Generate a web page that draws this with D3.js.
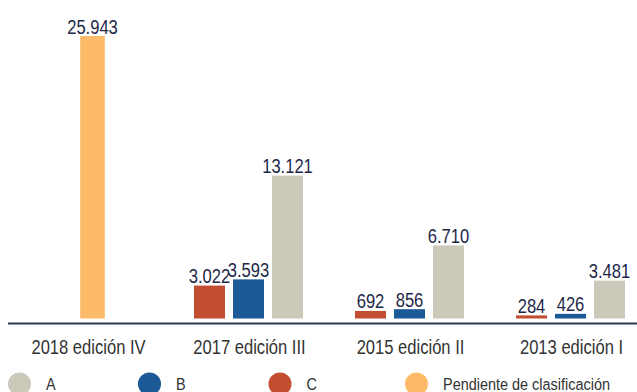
<!DOCTYPE html>
<html>
<head>
<meta charset="utf-8">
<script src="https://cdn.jsdelivr.net/npm/d3@7"></script>
<style>
  html, body { margin: 0; padding: 0; background: #fff; }
  svg { display: block; }
  text { font-family: "Liberation Sans", Arial, sans-serif; }
</style>
</head>
<body>
<svg id="chart" width="637" height="392"></svg>
<script>
// Editions shown on the x axis
const categories = ["2018 edición IV", "2017 edición III", "2015 edición II", "2013 edición I"];

// Series (null = not present in that edition)
const seriesKeys = ["C", "B", "A", "Pendiente"];
const valuesC = [null, 3022, 692, 284];
const valuesB = [null, 3593, 856, 426];
const valuesA = [null, 13121, 6710, 3481];
const valuesPendiente = [25943, null, null, null];

// Legend entries, in display order
const legendKeys = ["A", "B", "C", "Pendiente"];
const legendLabels = ["A", "B", "C", "Pendiente de clasificación"];

const colors = { A: "#CBC9BA", B: "#1B5A97", C: "#C24E32", Pendiente: "#FDBB6A" };
const seriesValues = { C: valuesC, B: valuesB, A: valuesA, Pendiente: valuesPendiente };

const fmt = v => d3.format(",")(v).replace(/,/g, ".");

// Condensed look: squeeze glyphs horizontally
const NARROW = 0.85;
function narrowText(sel, x, y) {
  return sel.attr("transform", `translate(${x},${y}) scale(${NARROW},1)`);
}

const svg = d3.select("#chart");

const baseline = 318.5;
const x0 = d3.scaleBand().domain(categories).range([8, 652]).paddingInner(0).paddingOuter(0);
const y = d3.scaleLinear().domain([0, 25943]).range([baseline, 36]);

const barW = 31, barGap = 8;

categories.forEach((cat, i) => {
  const present = seriesKeys.filter(k => seriesValues[k][i] != null);
  const n = present.length;
  const w = n * barW + (n - 1) * barGap;
  const cx = x0(cat) + x0.bandwidth() / 2 + (n === 1 ? 4 : -1);
  const x1 = d3.scaleBand().domain(present).range([cx - w / 2, cx + w / 2])
    .paddingInner(barGap / (barW + barGap)).paddingOuter(0);

  const g = svg.append("g");
  present.forEach(k => {
    const v = seriesValues[k][i];
    g.append("rect")
      .attr("x", x1(k))
      .attr("y", y(v))
      .attr("width", x1.bandwidth())
      .attr("height", baseline - y(v))
      .attr("fill", colors[k]);
    g.append("text")
      .call(narrowText, x1(k) + x1.bandwidth() / 2, y(v) - 2.5)
      .attr("text-anchor", "middle")
      .attr("font-size", 19.5)
      .attr("fill", "#1d2748")
      .text(fmt(v));
  });
});

// Category axis
const axisG = svg.append("g").attr("transform", "translate(0,323.5)");
axisG.append("line")
  .attr("x1", 8).attr("x2", 637)
  .attr("stroke", "#2f3752").attr("stroke-width", 2);
axisG.selectAll("text.cat")
  .data(categories)
  .join("text")
  .attr("class", "cat")
  .each(function (d) {
    d3.select(this).call(narrowText, x0(d) + x0.bandwidth() / 2, 30.5);
  })
  .attr("text-anchor", "middle")
  .attr("font-size", 19.5)
  .attr("fill", "#333333")
  .text(d => d);

// Legend
const legendX = [19.5, 149.5, 280, 416.5];
const legend = svg.append("g").attr("transform", "translate(0,384)");
legendKeys.forEach((k, i) => {
  legend.append("circle")
    .attr("cx", legendX[i]).attr("cy", 0).attr("r", 11.5)
    .attr("fill", colors[k]);
  legend.append("text")
    .call(narrowText, legendX[i] + 26.5, 6)
    .attr("font-size", 17)
    .attr("fill", "#333333")
    .text(legendLabels[i]);
});
</script>
</body>
</html>
